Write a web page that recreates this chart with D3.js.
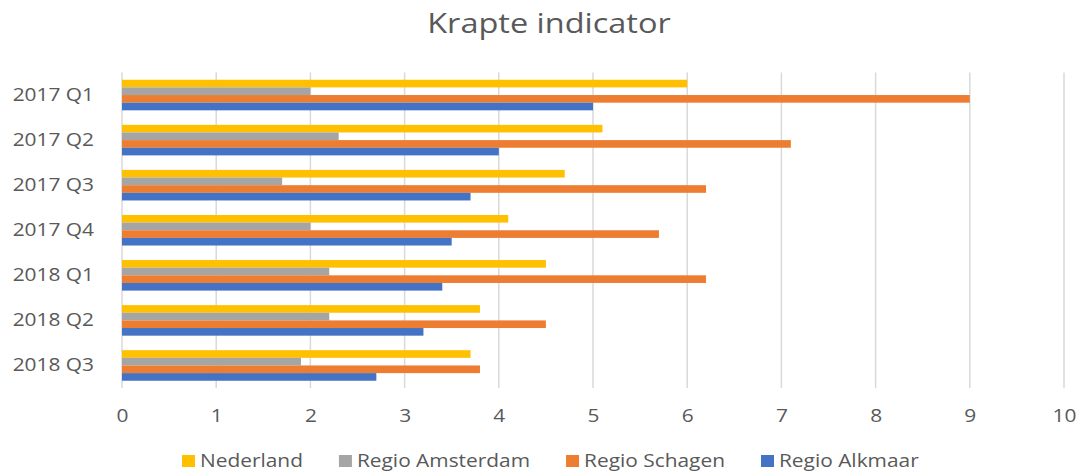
<!DOCTYPE html>
<html>
<head>
<meta charset="utf-8">
<script src="https://cdn.jsdelivr.net/npm/d3@7/dist/d3.min.js"></script>
<style>
  html, body { margin: 0; padding: 0; background: #fff; }
  svg { display: block; }
  text { font-family: "Open Sans", "Noto Sans", sans-serif; fill: #595959; }
</style>
</head>
<body>
<svg id="chart" width="1081" height="472"></svg>
<script>
const title = "Krapte indicator";
const categories = ["2017 Q1", "2017 Q2", "2017 Q3", "2017 Q4", "2018 Q1", "2018 Q2", "2018 Q3"];
const seriesNames = ["Nederland", "Regio Amsterdam", "Regio Schagen", "Regio Alkmaar"];
const nederland = [6.0, 5.1, 4.7, 4.1, 4.5, 3.8, 3.7];
const regioAmsterdam = [2.0, 2.3, 1.7, 2.0, 2.2, 2.2, 1.9];
const regioSchagen = [9.0, 7.1, 6.2, 5.7, 6.2, 4.5, 3.8];
const regioAlkmaar = [5.0, 4.0, 3.7, 3.5, 3.4, 3.2, 2.7];
const xTicks = [0, 1, 2, 3, 4, 5, 6, 7, 8, 9, 10];
const colors = ["#FFC000", "#A5A5A5", "#ED7D31", "#4472C4"];

const seriesValues = [nederland, regioAmsterdam, regioSchagen, regioAlkmaar];

const svg = d3.select("#chart");
const plotLeft = 122, plotRight = 1064, plotTop = 72.5, plotBottom = 388;
const SX = 1.16; // horizontal stretch of text seen in the reference

// stretch text horizontally via textLength
function stretch(sel) {
  sel.each(function () {
    const w = this.getComputedTextLength();
    d3.select(this).attr("textLength", w * SX).attr("lengthAdjust", "spacingAndGlyphs");
  });
}

const x = d3.scaleLinear().domain([0, 10]).range([plotLeft, plotRight]);
const y = d3.scaleBand().domain(categories).range([plotTop, plotBottom]).paddingInner(0.322).paddingOuter(0.161);
const ySub = d3.scaleBand().domain(seriesNames).range([0, y.bandwidth()]);

// title
svg.append("text").attr("x", 549).attr("y", 33).attr("text-anchor", "middle")
  .style("font-size", "28px").text(title).call(stretch);

// gridlines
svg.append("g").selectAll("line").data(xTicks).join("line")
  .attr("x1", d => x(d)).attr("x2", d => x(d))
  .attr("y1", plotTop).attr("y2", plotBottom)
  .attr("stroke", "#D9D9D9").attr("stroke-width", 1.5);

// bars
const groups = svg.append("g").selectAll("g").data(categories).join("g")
  .attr("transform", c => `translate(0,${y(c)})`);
groups.selectAll("rect").data((c, i) => seriesNames.map((s, j) => ({ s, j, v: seriesValues[j][i] })))
  .join("rect")
  .attr("x", x(0))
  .attr("y", d => ySub(d.s))
  .attr("width", d => x(d.v) - x(0))
  .attr("height", ySub.bandwidth())
  .attr("fill", d => colors[d.j]);

// x axis labels
const xAxis = d3.axisBottom(x).tickValues(xTicks).tickSize(0).tickPadding(0).tickFormat(d3.format("d"));
const gx = svg.append("g").attr("transform", `translate(0,${plotBottom + 15})`).call(xAxis);
gx.select(".domain").remove();
gx.selectAll("text").style("font-size", "18px").attr("fill", "#595959")
  .style("font-family", "'Open Sans', sans-serif").attr("dy", "0.7em").attr("y", 6).call(stretch);

// y axis labels
const yAxis = d3.axisLeft(y).tickSize(0).tickPadding(0);
const gy = svg.append("g").attr("transform", `translate(${plotLeft - 28},0)`).call(yAxis);
gy.select(".domain").remove();
gy.selectAll("text").style("font-size", "18px").attr("fill", "#595959")
  .style("font-family", "'Open Sans', sans-serif").call(stretch);

// legend
const legend = svg.append("g");
let lx = 182;
seriesNames.forEach((name, i) => {
  legend.append("rect").attr("x", lx).attr("y", 455).attr("width", 13).attr("height", 12).attr("fill", colors[i]);
  const t = legend.append("text").attr("x", lx + 18).attr("y", 461).attr("dy", "0.35em")
    .style("font-size", "18px").text(name);
  const w = t.node().getComputedTextLength() * SX;
  t.call(stretch);
  lx += 18 + w + 36;
});
</script>
</body>
</html>
